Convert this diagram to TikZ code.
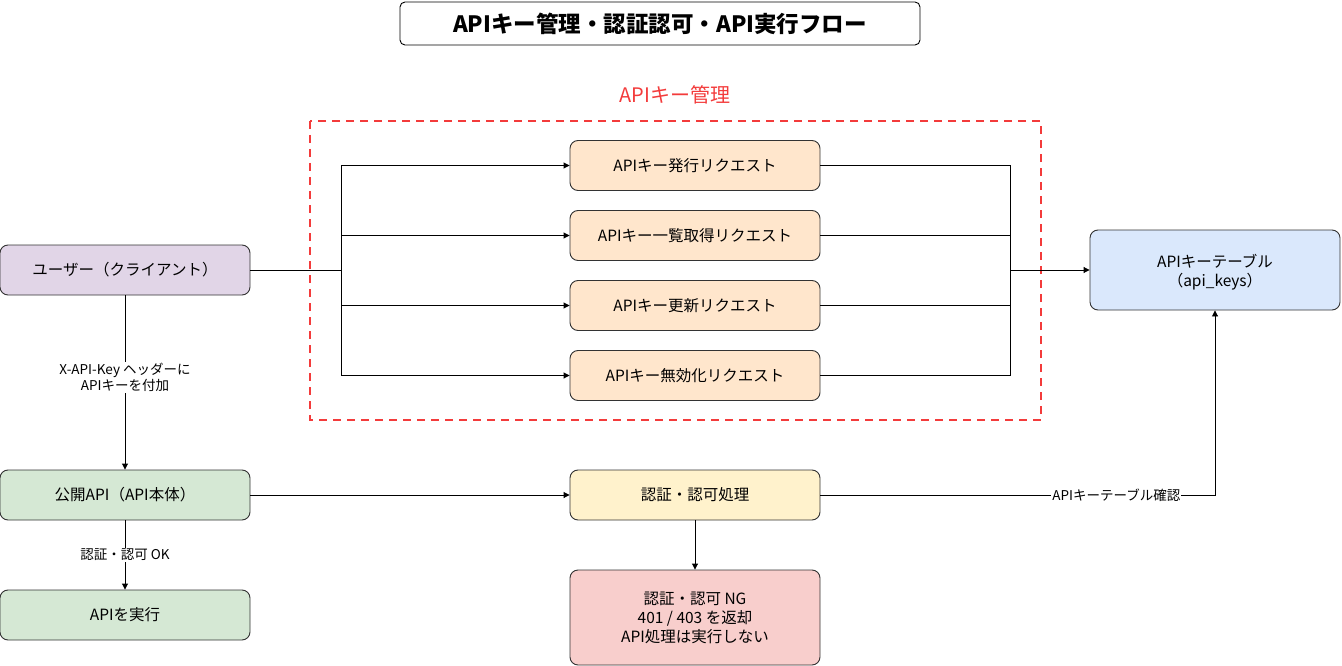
\documentclass[tikz,border=0pt]{standalone}
\usepackage{fontspec}
\setmainfont{Noto Sans CJK JP}
\usetikzlibrary{arrows.meta}
\definecolor{purplefill}{HTML}{E1D5E7}
\definecolor{orangefill}{HTML}{FFE6CC}
\definecolor{bluefill}{HTML}{DAE8FC}
\definecolor{greenfill}{HTML}{D5E8D4}
\definecolor{yellowfill}{HTML}{FFF2CC}
\definecolor{redfill}{HTML}{F8CECC}
\definecolor{edgegray}{HTML}{333333}
\definecolor{groupred}{HTML}{F33B3B}
\tikzset{
  box/.style={draw=edgegray, line width=0.9pt, rounded corners=8pt, minimum width=250pt, minimum height=50pt, inner sep=0pt, align=center, font=\fontsize{15.5}{19}\selectfont},
  conn/.style={draw=black, line width=0.9pt},
  arr/.style={conn, -{Triangle[length=6pt,width=6pt]}},
  elabel/.style={fill=white, inner sep=1pt, align=center, font=\fontsize{13.5}{16}\selectfont},
}
\begin{document}
\begin{tikzpicture}[x=1pt,y=-1pt]
\useasboundingbox (0,0) rectangle (1342,666);
% title
\node[draw=black, line width=0.9pt, rounded corners=5pt, minimum width=520pt, minimum height=43pt, font=\fontsize{22.5}{26}\selectfont\bfseries] (title) at (660,23.5) {APIキー管理・認証認可・API実行フロー};
% group
\draw[groupred, line width=2pt, dash pattern=on 8pt off 6pt] (310,121) rectangle (1041,420);
\node[text=groupred, font=\fontsize{20}{23}\selectfont] (grouplabel) at (675,95) {APIキー管理};
% nodes
\node[box, fill=purplefill] (user) at (125,270) {ユーザー（クライアント）};
\node[box, fill=orangefill] (r1) at (695,165.5) {APIキー発行リクエスト};
\node[box, fill=orangefill] (r2) at (695,235.5) {APIキー一覧取得リクエスト};
\node[box, fill=orangefill] (r3) at (695,305.5) {APIキー更新リクエスト};
\node[box, fill=orangefill] (r4) at (695,375.5) {APIキー無効化リクエスト};
\node[box, fill=bluefill, minimum height=80pt, text depth=0pt] (table) at (1215,270) {APIキーテーブル\\（api\_keys）};
\node[box, fill=greenfill] (pub) at (125,495) {公開API（API本体）};
\node[box, fill=greenfill] (exec) at (125,615) {APIを実行};
\node[box, fill=yellowfill] (auth) at (695,495) {認証・認可処理};
\node[box, fill=redfill, minimum height=95pt] (ng) at (695,617.5) {認証・認可 NG\\401 / 403 を返却\\API処理は実行しない};
% bus coordinates
\coordinate (lb1) at (341,165.5);
\coordinate (lb2) at (341,235.5);
\coordinate (lb3) at (341,305.5);
\coordinate (lb4) at (341,375.5);
\coordinate (lbm) at (341,270);
\coordinate (rb1) at (1010,165.5);
\coordinate (rb4) at (1010,375.5);
\coordinate (rbm) at (1010,270);
\coordinate (ck) at (1215,495);
% connectors
\draw[conn] (user.east) -- (lbm);
\draw[conn] (lb1) -- (lb4);
\draw[arr] (lb1) -- (r1.west);
\draw[arr] (lb2) -- (r2.west);
\draw[arr] (lb3) -- (r3.west);
\draw[arr] (lb4) -- (r4.west);
\draw[conn] (r1.east) -- (r1.east -| rb1);
\draw[conn] (r2.east) -- (r2.east -| rb1);
\draw[conn] (r3.east) -- (r3.east -| rb1);
\draw[conn] (r4.east) -- (r4.east -| rb1);
\draw[conn] (rb1) -- (rb4);
\draw[arr] (rbm) -- (table.west);
\draw[arr] (user.south) -- node[elabel, pos=0.47] {X-API-Key ヘッダーに\\APIキーを付加} (pub.north);
\draw[arr] (pub.south) -- node[elabel, pos=0.5] {認証・認可 OK} (exec.north);
\draw[arr] (pub.east) -- (auth.west);
\draw[arr] (auth.south) -- (ng.north);
\draw[arr] (auth.east) -- node[elabel, pos=0.75] {APIキーテーブル確認} (ck) -- (table.south);
\end{tikzpicture}
\end{document}
